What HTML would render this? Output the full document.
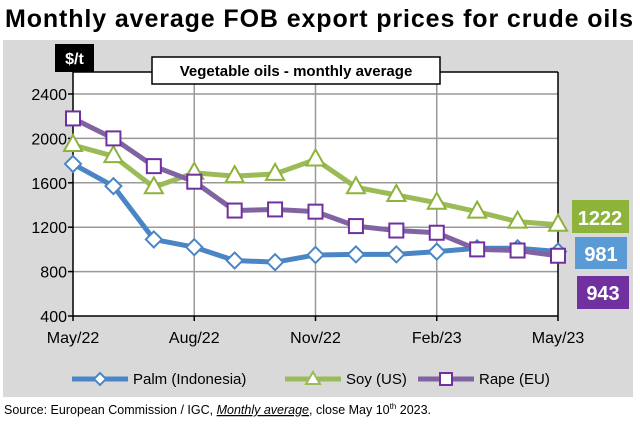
<!DOCTYPE html>
<html><head><meta charset="utf-8"><style>
body{margin:0;width:640px;height:424px;background:#fff;font-family:"Liberation Sans",sans-serif;overflow:hidden}
</style></head><body>
<svg width="640" height="424">
<text x="5" y="27" font-size="25" font-weight="bold" fill="#000" textLength="628">Monthly average FOB export prices for crude oils</text>
<rect x="3" y="40" width="630" height="357" fill="#d9d9d9"/>
<rect x="73" y="72" width="485" height="244" fill="#fff"/>
<g id="grid"></g>
<line x1="73" y1="72" x2="558" y2="72" stroke="#000" stroke-width="1.5"/>
<line x1="558" y1="72" x2="558" y2="316" stroke="#000" stroke-width="1.5"/>
<line x1="73" y1="72" x2="73" y2="316" stroke="#000" stroke-width="1.5"/>
<line x1="73" y1="316" x2="558" y2="316" stroke="#000" stroke-width="1.5"/>
<rect x="55" y="44" width="39" height="28" fill="#000"/>
<text x="74.5" y="64" font-size="16" font-weight="bold" fill="#fff" text-anchor="middle">$/t</text>
<rect x="152" y="57" width="288" height="27" fill="#fff" stroke="#000" stroke-width="1.5"/>
<text x="296" y="76" font-size="15" font-weight="bold" text-anchor="middle">Vegetable oils - monthly average</text>
<g id="series"></g>
<rect x="572" y="200" width="57" height="33" fill="#8db33a"/>
<text x="600" y="225" font-size="20" font-weight="bold" fill="#fff" text-anchor="middle">1222</text>
<rect x="575" y="237" width="52" height="32" fill="#5b9bd5"/>
<text x="601" y="261" font-size="20" font-weight="bold" fill="#fff" text-anchor="middle">981</text>
<rect x="577" y="276" width="52" height="33" fill="#7030a0"/>
<text x="603" y="300" font-size="20" font-weight="bold" fill="#fff" text-anchor="middle">943</text>
<g font-size="15">
<g><line x1="72" y1="379" x2="128" y2="379" stroke="#4a86c5" stroke-width="5"/><polygon points="100,373 106,379 100,385 94,379" fill="#fff" stroke="#4a86c5" stroke-width="2"/><text x="133" y="384">Palm (Indonesia)</text></g>
<g><line x1="285" y1="379" x2="341" y2="379" stroke="#9bbb59" stroke-width="5"/><polygon points="313,372 320,384 306,384" fill="#fff" stroke="#9bbb59" stroke-width="2"/><text x="346" y="384">Soy (US)</text></g>
<g><line x1="418" y1="379" x2="474" y2="379" stroke="#8064a2" stroke-width="5"/><rect x="440" y="373" width="12" height="12" fill="#fff" stroke="#7030a0" stroke-width="2"/><text x="479" y="384">Rape (EU)</text></g>
</g>
<text x="4" y="414" font-size="12.5">Source: European Commission / IGC, <tspan font-style="italic" text-decoration="underline">Monthly average</tspan>, close May 10<tspan font-size="8" dy="-5">th</tspan><tspan dy="5"> 2023.</tspan></text>
</svg>
<script>
const categories=["May/22","Jun/22","Jul/22","Aug/22","Sep/22","Oct/22","Nov/22","Dec/22","Jan/23","Feb/23","Mar/23","Apr/23","May/23"];
const palm=[1770,1570,1090,1020,900,885,950,955,955,980,1010,1010,981];
const soy=[1940,1840,1560,1690,1660,1680,1810,1560,1490,1420,1340,1250,1222];
const rape=[2180,2000,1750,1610,1350,1360,1340,1210,1170,1150,1000,990,943];
const yTicks=[400,800,1200,1600,2000,2400];
const xLabelIdx=[0,3,6,9,12];
const NS="http://www.w3.org/2000/svg";
const X0=73,X1=558,Y0=316,Y1=94,YMIN=400,YMAX=2400;
const xs=i=>X0+(X1-X0)*i/(categories.length-1);
const ys=v=>Y0-(v-YMIN)/(YMAX-YMIN)*(Y0-Y1);
function mk(t,a,p){const e=document.createElementNS(NS,t);for(const k in a)e.setAttribute(k,a[k]);p.appendChild(e);return e;}
const grid=document.getElementById('grid');
yTicks.forEach(v=>{
 if(v>YMIN){const l=mk('line',{x1:X0,x2:X1,y1:ys(v),y2:ys(v),stroke:'#999','stroke-width':1.5},grid);
 
 }
 const tk=mk('line',{x1:X0-5,x2:X0,y1:ys(v),y2:ys(v),stroke:'#000','stroke-width':1.5},grid);
 
 
 const t=mk('text',{x:X0-6,y:ys(v)+6,'font-size':16,'text-anchor':'end'},grid);t.textContent=v;
 
 
});
xLabelIdx.forEach(i=>{
 if(i>0&&i<categories.length-1){const l=mk('line',{x1:xs(i),x2:xs(i),y1:72,y2:Y0,stroke:'#999','stroke-width':1.5},grid);
 
 }
 const tk=mk('line',{x1:xs(i),x2:xs(i),y1:Y0,y2:Y0+5,stroke:'#000','stroke-width':1.5},grid);
 
 
 const t=mk('text',{x:xs(i),y:Y0+27,'font-size':16,'text-anchor':'middle'},grid);t.textContent=categories[i];
 
 
});
const sg=document.getElementById('series');
function series(data,lc,mc,shape,name){
 const g=mk('g',{},sg);
 
 
 const pl=mk('polyline',{points:data.map((v,i)=>xs(i)+','+ys(v)).join(' '),fill:'none',stroke:lc,'stroke-width':5,'stroke-linejoin':'round'},g);
 
 
 data.forEach((v,i)=>{const x=xs(i),y=ys(v);let m;
  if(shape==='d')m=mk('polygon',{points:`${x},${y-8} ${x+8},${y} ${x},${y+8} ${x-8},${y}`,fill:'#fff',stroke:mc,'stroke-width':2},g);
  else if(shape==='t')m=mk('polygon',{points:`${x},${y-10} ${x+9},${y+6} ${x-9},${y+6}`,fill:'#fff',stroke:mc,'stroke-width':2},g);
  else m=mk('rect',{x:x-7,y:y-7,width:14,height:14,fill:'#fff',stroke:mc,'stroke-width':2},g);
  
  
 });
}
series(palm,'#4a86c5','#4a86c5','d','palm');
series(soy,'#9bbb59','#8db33a','t','soy');
series(rape,'#8064a2','#7030a0','s','rape');
</script>
</body></html>
